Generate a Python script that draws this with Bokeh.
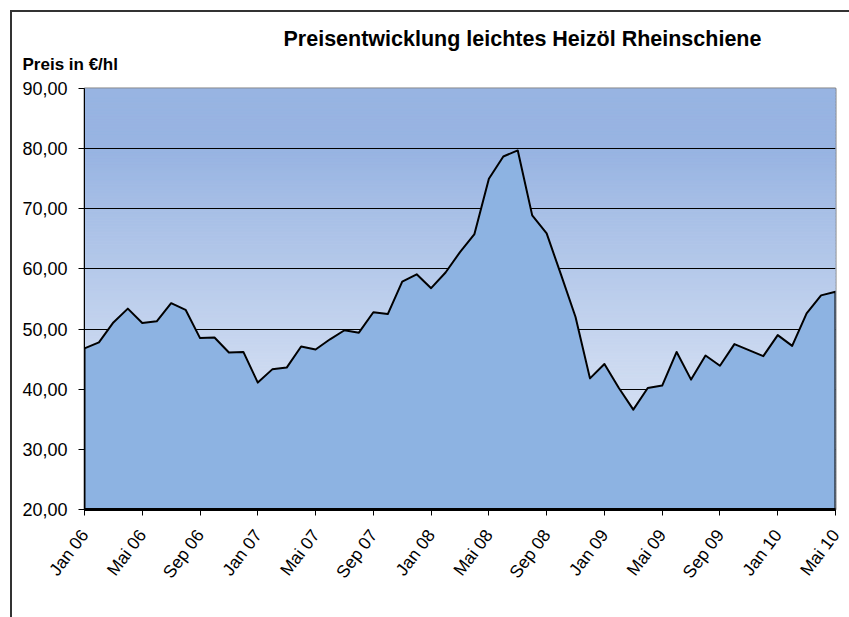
import numpy as np
from bokeh.plotting import figure
from bokeh.models import Range1d, FixedTicker, Title
from bokeh.embed import file_html
from bokeh.resources import INLINE

# ---- data -------------------------------------------------------------
months = ["Jan 06", "Feb 06", "Mrz 06", "Apr 06", "Mai 06", "Jun 06", "Jul 06", "Aug 06",
          "Sep 06", "Okt 06", "Nov 06", "Dez 06",
          "Jan 07", "Feb 07", "Mrz 07", "Apr 07", "Mai 07", "Jun 07", "Jul 07", "Aug 07",
          "Sep 07", "Okt 07", "Nov 07", "Dez 07",
          "Jan 08", "Feb 08", "Mrz 08", "Apr 08", "Mai 08", "Jun 08", "Jul 08", "Aug 08",
          "Sep 08", "Okt 08", "Nov 08", "Dez 08",
          "Jan 09", "Feb 09", "Mrz 09", "Apr 09", "Mai 09", "Jun 09", "Jul 09", "Aug 09",
          "Sep 09", "Okt 09", "Nov 09", "Dez 09",
          "Jan 10", "Feb 10", "Mrz 10", "Apr 10", "Mai 10"]
prices = [46.8, 47.8, 51.1, 53.4, 51.0, 51.3, 54.3, 53.2,
          48.5, 48.6, 46.1, 46.2,
          41.1, 43.3, 43.6, 47.1, 46.6, 48.3, 49.8, 49.4,
          52.8, 52.5, 57.9, 59.1,
          56.8, 59.4, 62.8, 65.8, 75.0, 78.7, 79.7, 68.9,
          65.9, 59.0, 52.0, 41.8,
          44.2, 40.2, 36.6, 40.2, 40.6, 46.2, 41.6, 45.6,
          43.9, 47.5, 46.5, 45.5,
          49.0, 47.2, 52.6, 55.6, 56.2]
tick_step = 4
y_ticks = [20, 30, 40, 50, 60, 70, 80, 90]
y_min, y_max = 20, 90

title_text = "Preisentwicklung leichtes Heizöl Rheinschiene"
unit_text = "Preis in €/hl"

FONT = "Liberation Sans"

# ---- figure -----------------------------------------------------------
idx = list(range(len(prices)))
n_last = idx[-1]
p = figure(width=849, height=617, output_backend="svg", toolbar_location=None,
           title=None, x_range=Range1d(0, n_last), y_range=Range1d(y_min, y_max),
           min_border_left=84, min_border_right=14, min_border_top=88, min_border_bottom=108,
           background_fill_color="white", border_fill_color=None)
# outer chart frame: thin dark lines on the left and top (page background, behind the canvas)
p.styles = {
    "background-color": "white",
    "background-image": "linear-gradient(#333333, #333333), linear-gradient(#333333, #333333)",
    "background-size": "2px 100%, 100% 2px",
    "background-position": "10px 10px, 10px 10px",
    "background-repeat": "no-repeat",
}

# gradient background of the plot area (decoration) drawn as thin bands
def grad_color(t):
    stops = [(0.0, (152, 180, 226)), (0.15, (152, 180, 226)), (0.6, (199, 214, 239)), (1.0, (226, 233, 246))]
    for (t0, c0), (t1, c1) in zip(stops[:-1], stops[1:]):
        if t0 <= t <= t1:
            f = (t - t0) / (t1 - t0) if t1 > t0 else 0
            c = [int(round(a + (b - a) * f)) for a, b in zip(c0, c1)]
            return "#%02x%02x%02x" % tuple(c)
    return "#%02x%02x%02x" % stops[-1][1]

bands = np.arange(y_min, y_max, 0.5)
cols = [grad_color((y_max - (b + 0.25)) / (y_max - y_min)) for b in bands]
p.quad(left=0, right=n_last, bottom=bands, top=bands + 0.5,
       fill_color=cols, line_color=cols, line_width=1, level="image")

# area
xs = idx + [n_last, 0]
ys = prices + [y_min, y_min]
p.patch(xs, ys, fill_color="#8db3e2", line_color="black", line_width=2, line_join="round")

# grid
p.xgrid.visible = False
p.ygrid.ticker = FixedTicker(ticks=y_ticks[1:-1])
p.ygrid.grid_line_color = "black"
p.ygrid.grid_line_width = 1

p.outline_line_color = "#808080"
p.outline_line_width = 2

# y axis
p.yaxis.ticker = FixedTicker(ticks=y_ticks)
p.yaxis.major_label_overrides = {v: ("%.2f" % v).replace(".", ",") for v in y_ticks}
p.yaxis.axis_line_color = "black"
p.yaxis.axis_line_width = 1
p.yaxis.major_tick_line_color = "black"
p.yaxis.major_tick_out = 6
p.yaxis.major_tick_in = 0
p.yaxis.minor_tick_line_color = None
p.yaxis.major_label_text_font = FONT
p.yaxis.major_label_text_font_size = "18px"
p.yaxis.major_label_text_color = "black"
p.yaxis.major_label_standoff = 11

# x axis
xt = idx[::tick_step]
p.xaxis.ticker = FixedTicker(ticks=xt)
p.xaxis.major_label_overrides = {i: months[i] for i in xt}
p.xaxis.major_label_orientation = 0.925
p.xaxis.axis_line_color = "black"
p.xaxis.axis_line_width = 3
p.xaxis.major_tick_line_color = "black"
p.xaxis.major_tick_out = 6
p.xaxis.major_tick_in = 0
p.xaxis.minor_tick_line_color = None
p.xaxis.major_label_text_font = FONT
p.xaxis.major_label_text_font_size = "17.5px"
p.xaxis.major_label_text_color = "black"
p.xaxis.major_label_standoff = 16

# titles
sub = Title(text=unit_text, align="left", offset=-62, text_font=FONT, text_font_size="17px",
            text_font_style="bold", text_color="black", standoff=30)
main = Title(text=title_text, align="left", offset=199, text_font=FONT, text_font_size="21.5px",
             text_font_style="bold", text_color="black", standoff=-26)
p.add_layout(sub, "above")
p.add_layout(main, "above")

open("out.html", "w").write(file_html(p, INLINE))
